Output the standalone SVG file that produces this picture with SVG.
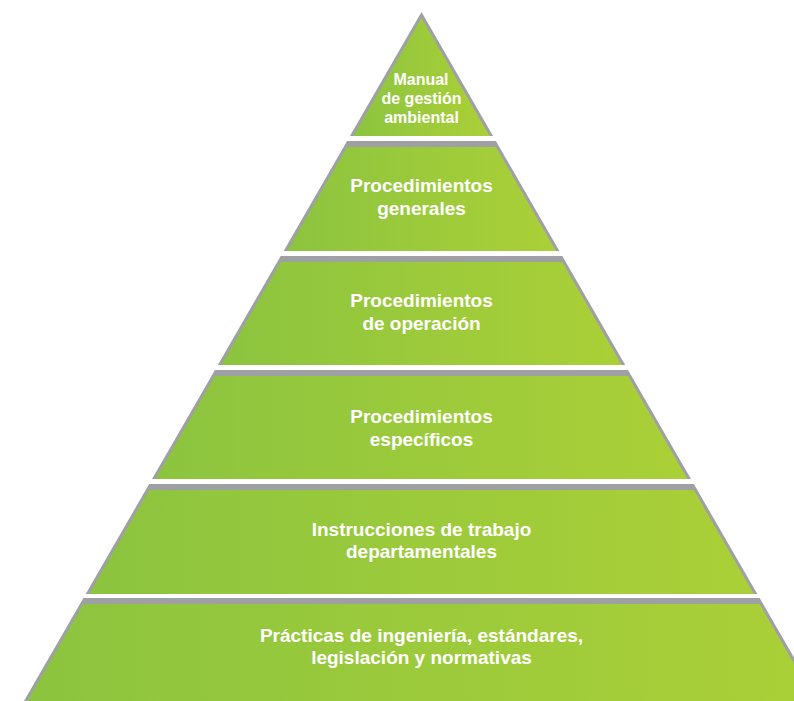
<svg xmlns="http://www.w3.org/2000/svg" width="794" height="701" viewBox="0 0 794 701">
  <defs>
    <linearGradient id="g" x1="0" y1="0" x2="1" y2="0">
      <stop offset="0" stop-color="#8cc43f"/>
      <stop offset="1" stop-color="#abd037"/>
    </linearGradient>
    <style>
      .edge { fill: #9fa0a4; }
      .face { fill: url(#g); }
      .lbl { fill: #ffffff; font-family: "Liberation Sans", Arial, sans-serif; font-weight: bold; font-size: 19px; text-anchor: middle; }
      .sm { font-size: 16px; }
    </style>
  </defs>
  <rect width="794" height="701" fill="#ffffff"/>

  <g id="layer1">
    <polygon class="edge" points="421.5,12 493.05,136 349.95,136"/>
    <polygon class="face" points="421.5,18.1 489.55,136 353.45,136"/>
    <text class="lbl sm" x="421" y="85">Manual</text>
    <text class="lbl sm" x="421.5" y="104">de gestión</text>
    <text class="lbl sm" x="421.5" y="123">ambiental</text>
  </g>

  <g id="layer2">
    <polygon class="edge" points="347.07,141 495.93,141 559.4,251 283.6,251"/>
    <polygon class="face" points="347.1,147 495.9,147 555.9,251 287.1,251"/>
    <text class="lbl" x="421.5" y="192">Procedimientos</text>
    <text class="lbl" x="421.5" y="215">generales</text>
  </g>

  <g id="layer3">
    <polygon class="edge" points="280.71,256 562.29,256 625.18,365 217.82,365"/>
    <polygon class="face" points="280.75,262 562.25,262 621.68,365 221.32,365"/>
    <text class="lbl" x="421.5" y="307">Procedimientos</text>
    <text class="lbl" x="421.5" y="330">de operación</text>
  </g>

  <g id="layer4">
    <polygon class="edge" points="214.93,370 628.07,370 690.96,479 152.04,479"/>
    <polygon class="face" points="214.97,376 628.03,376 687.46,479 155.54,479"/>
    <text class="lbl" x="421.5" y="423">Procedimientos</text>
    <text class="lbl" x="421.5" y="446">específicos</text>
  </g>

  <g id="layer5">
    <polygon class="edge" points="149.16,484 693.84,484 757.31,594 85.69,594"/>
    <polygon class="face" points="149.19,490 693.81,490 753.81,594 89.19,594"/>
    <text class="lbl" x="421.5" y="536">Instrucciones de trabajo</text>
    <text class="lbl" x="421.5" y="558">departamentales</text>
  </g>

  <g id="layer6">
    <polygon class="edge" points="83.38,598 759.62,598 821.36,705 21.64,705"/>
    <polygon class="face" points="83.42,604 759.58,604 817.86,705 25.14,705"/>
    <text class="lbl" x="421.5" y="642">Prácticas de ingeniería, estándares,</text>
    <text class="lbl" x="421.5" y="664">legislación y normativas</text>
  </g>
</svg>
